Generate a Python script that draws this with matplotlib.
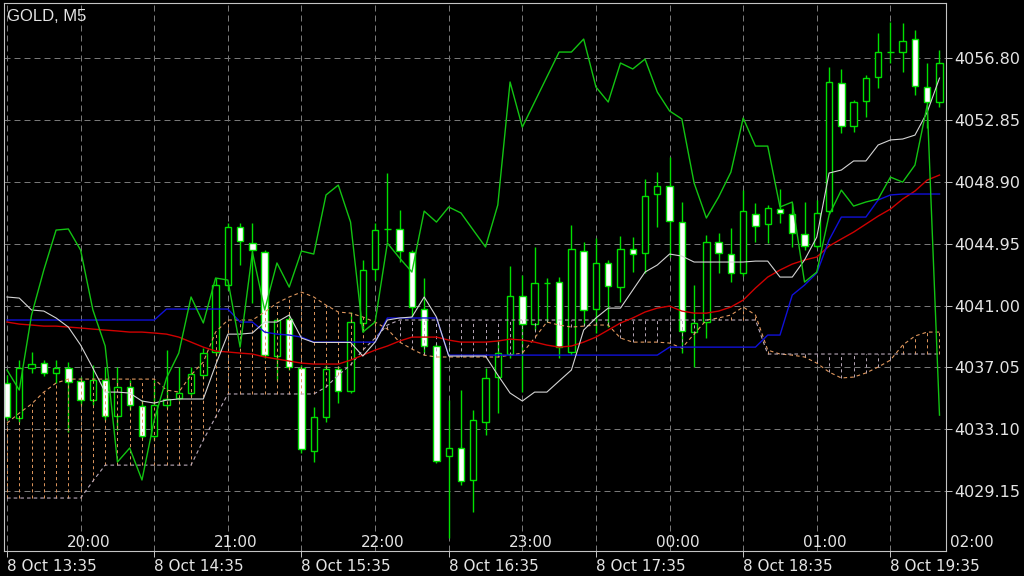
import numpy as np
import matplotlib
matplotlib.use("Agg")
import matplotlib.pyplot as plt
from matplotlib.patches import Rectangle

plt.rcParams['lines.scale_dashes'] = False
plt.rcParams['font.family'] = ['DejaVu Sans']

# GOLD M5 candles
opens = [4036.06, 4033.82, 4037.01, 4037.33, 4036.70, 4037.01, 4036.19, 4034.97, 4036.25, 4033.95,
         4035.80, 4034.59, 4032.67, 4034.65, 4035.10, 4035.42, 4036.57, 4038.04, 4042.31, 4046.01,
         4044.99, 4044.42, 4037.78, 4040.14, 4037.01, 4031.72, 4033.89, 4036.95, 4035.55, 4039.89,
         4043.33, 4045.89, 4045.89, 4044.42, 4040.78, 4038.42, 4031.40, 4031.91, 4029.87, 4033.57,
         4036.44, 4037.91, 4041.61, 4039.82, 4042.44, 4042.50, 4038.04, 4044.48, 4040.78, 4043.72,
         4042.18, 4044.61, 4044.35, 4048.12, 4048.63, 4046.33, 4039.31, 4039.95, 4045.06, 4044.29,
         4043.08, 4046.84, 4046.20, 4047.16, 4046.84, 4045.57, 4044.80, 4047.03, 4055.20, 4052.46,
         4054.05, 4055.59, 4057.18, 4057.18, 4058.01, 4054.95, 4053.99]
highs = [4036.57, 4037.52, 4038.04, 4037.52, 4037.52, 4037.40, 4036.44, 4037.21, 4037.08, 4037.08,
         4036.25, 4034.97, 4036.25, 4038.16, 4037.08, 4037.08, 4038.29, 4042.76, 4046.27, 4046.27,
         4046.27, 4044.54, 4040.21, 4040.40, 4037.21, 4034.53, 4037.21, 4037.14, 4040.59, 4043.91,
         4046.27, 4049.46, 4047.10, 4044.54, 4042.76, 4038.55, 4034.97, 4035.61, 4034.33, 4037.01,
         4038.80, 4043.52, 4042.95, 4044.74, 4042.76, 4042.82, 4046.14, 4045.06, 4045.31, 4043.91,
         4045.44, 4045.37, 4049.08, 4049.52, 4050.48, 4047.61, 4042.31, 4045.50, 4045.63, 4045.95,
         4048.37, 4047.54, 4047.40, 4048.44, 4047.54, 4047.61, 4047.74, 4056.22, 4056.10, 4054.12,
         4055.71, 4058.39, 4059.10, 4059.03, 4058.59, 4056.48, 4057.31]
lows = [4033.70, 4033.57, 4036.70, 4036.50, 4036.06, 4032.93, 4034.65, 4034.65, 4033.70, 4033.06,
        4034.33, 4032.55, 4032.42, 4034.46, 4034.97, 4035.23, 4036.38, 4037.84, 4041.99, 4043.59,
        4041.16, 4037.65, 4036.25, 4036.89, 4031.59, 4031.02, 4033.57, 4034.78, 4035.42, 4039.31,
        4042.63, 4045.06, 4043.78, 4040.27, 4037.97, 4030.95, 4026.16, 4029.55, 4027.82, 4032.74,
        4034.14, 4037.65, 4035.48, 4039.44, 4039.95, 4037.65, 4037.84, 4039.76, 4039.25, 4039.63,
        4041.23, 4043.14, 4043.08, 4046.01, 4044.10, 4037.97, 4037.08, 4038.93, 4043.08, 4042.50,
        4042.89, 4045.06, 4044.99, 4046.27, 4044.74, 4044.54, 4044.67, 4046.84, 4052.01, 4052.08,
        4053.03, 4054.88, 4056.48, 4055.90, 4054.44, 4052.33, 4053.67]
closes = [4033.89, 4037.01, 4037.27, 4036.70, 4037.01, 4036.12, 4034.97, 4036.25, 4033.95, 4035.80,
          4034.65, 4032.67, 4034.65, 4035.04, 4035.42, 4036.63, 4037.97, 4042.31, 4046.01, 4045.12,
          4044.54, 4037.84, 4040.08, 4037.08, 4031.85, 4033.89, 4036.95, 4035.55, 4039.95, 4043.27,
          4045.82, 4045.89, 4044.48, 4040.91, 4038.42, 4031.08, 4031.91, 4029.80, 4033.70, 4036.38,
          4037.97, 4041.61, 4039.82, 4042.44, 4042.44, 4038.35, 4044.61, 4040.72, 4043.72, 4042.25,
          4044.61, 4044.29, 4047.99, 4048.63, 4046.40, 4039.38, 4039.89, 4045.06, 4044.35, 4043.08,
          4047.03, 4046.08, 4047.23, 4046.91, 4045.63, 4044.80, 4046.91, 4055.27, 4052.46, 4053.99,
          4055.52, 4057.18, 4057.18, 4057.88, 4055.01, 4053.99, 4056.48]

# indicator lines
tenkan = [4041.55, 4041.48, 4040.72, 4040.65, 4040.21, 4039.63, 4038.48, 4037.01, 4035.48, 4035.48,
          4035.42, 4034.91, 4034.78, 4034.97, 4035.04, 4035.04, 4035.04, 4037.21, 4039.18, 4039.18,
          4039.25, 4039.95, 4039.95, 4040.40, 4038.93, 4038.65, 4038.65, 4038.65, 4038.65, 4037.78,
          4038.67, 4040.08, 4040.21, 4040.27, 4041.55, 4040.27, 4037.78, 4037.78, 4037.78, 4037.78,
          4036.57, 4035.42, 4034.91, 4035.48, 4035.48, 4036.19, 4036.89, 4039.44, 4040.21, 4040.84,
          4040.84, 4041.99, 4043.14, 4043.59, 4044.29, 4044.16, 4043.78, 4043.78, 4043.78, 4043.78,
          4043.78, 4043.84, 4043.84, 4042.82, 4042.82, 4043.91, 4045.37, 4049.46, 4049.65, 4050.23,
          4050.23, 4051.25, 4051.57, 4051.63, 4051.88, 4053.35, 4055.52]
kijun = [4040.08, 4040.08, 4040.08, 4040.08, 4040.08, 4040.08, 4040.08, 4040.08, 4040.08, 4040.08,
         4040.08, 4040.08, 4040.08, 4040.78, 4040.78, 4040.78, 4040.78, 4040.78, 4040.78, 4039.95,
         4039.95, 4039.31, 4039.18, 4039.12, 4038.99, 4038.67, 4038.67, 4038.67, 4038.67, 4038.67,
         4038.67, 4040.21, 4040.21, 4040.21, 4040.21, 4040.21, 4037.84, 4037.84, 4037.84, 4037.84,
         4037.84, 4037.84, 4037.84, 4037.84, 4037.84, 4037.84, 4037.84, 4037.84, 4037.84, 4037.84,
         4037.84, 4037.84, 4037.84, 4037.84, 4038.35, 4038.35, 4038.35, 4038.35, 4038.35, 4038.35,
         4038.35, 4038.35, 4039.12, 4039.12, 4041.67, 4042.31, 4043.08, 4045.18, 4046.65, 4046.65,
         4046.65, 4047.74, 4048.06, 4048.12, 4048.12, 4048.12, 4048.12]
red_ma = [4039.95, 4039.82, 4039.76, 4039.69, 4039.69, 4039.63, 4039.57, 4039.50, 4039.44, 4039.38,
          4039.31, 4039.31, 4039.25, 4039.18, 4038.99, 4038.67, 4038.35, 4038.10, 4038.04, 4037.97,
          4037.91, 4037.72, 4037.59, 4037.46, 4037.33, 4037.27, 4037.27, 4037.27, 4037.52, 4037.84,
          4038.16, 4038.42, 4038.74, 4038.99, 4038.99, 4038.99, 4038.80, 4038.67, 4038.67, 4038.67,
          4038.74, 4038.86, 4038.80, 4038.67, 4038.48, 4038.35, 4038.42, 4038.67, 4038.99, 4039.44,
          4039.89, 4040.21, 4040.59, 4040.84, 4040.97, 4040.65, 4040.52, 4040.52, 4040.65, 4040.91,
          4041.35, 4042.12, 4042.82, 4043.27, 4043.65, 4043.91, 4044.10, 4044.80, 4045.25, 4045.69,
          4046.20, 4046.71, 4047.16, 4047.80, 4048.31, 4049.01, 4049.33]
chikou = [4036.89, 4035.61, 4040.40, 4043.27, 4045.82, 4045.89, 4044.54, 4040.72, 4038.42, 4031.02,
          4031.91, 4029.87, 4033.70, 4036.38, 4037.97, 4041.55, 4039.89, 4042.76, 4042.63, 4038.35,
          4044.42, 4040.72, 4043.72, 4042.18, 4044.48, 4044.29, 4048.06, 4048.69, 4046.33, 4039.31,
          4039.95, 4044.99, 4044.03, 4043.14, 4047.03, 4046.33, 4047.29, 4046.91, 4045.82, 4044.74,
          4047.42, 4055.27, 4052.39, 4053.99, 4055.59, 4057.18, 4057.18, 4058.01, 4054.95, 4053.99,
          4056.48, 4056.10, 4056.73, 4054.63, 4053.42, 4052.91, 4048.82, 4046.59, 4047.93, 4049.52,
          4052.97, 4051.18, 4051.18, 4047.29, 4047.61, 4042.50, 4043.14, 4046.78, 4048.37, 4047.35,
          4047.61, 4047.80, 4049.20, 4048.88, 4049.97, 4053.80, 4034.01]
span_a = [4033.50, 4034.14, 4034.72, 4035.48, 4036.06, 4036.31, 4036.31, 4036.31, 4036.31, 4036.31,
          4036.31, 4036.31, 4036.31, 4035.61, 4035.48, 4036.57, 4037.40, 4039.31, 4040.08, 4040.08,
          4040.08, 4040.59, 4041.16, 4041.55, 4041.86, 4041.55, 4041.03, 4040.59, 4040.52, 4040.27,
          4039.95, 4039.50, 4038.67, 4038.23, 4037.84, 4037.72, 4037.72, 4037.72, 4037.72, 4037.72,
          4037.72, 4037.84, 4037.97, 4038.93, 4039.95, 4039.76, 4039.63, 4039.69, 4039.76, 4039.76,
          4038.93, 4038.67, 4038.67, 4038.67, 4038.61, 4038.29, 4039.18, 4040.08, 4040.21, 4040.40,
          4040.91, 4040.40, 4038.16, 4037.91, 4037.84, 4037.72, 4037.33, 4036.76, 4036.38, 4036.44,
          4036.70, 4037.08, 4037.52, 4038.48, 4039.06, 4039.31, 4039.31]
span_b = [4028.72, 4028.72, 4028.72, 4028.72, 4028.72, 4028.72, 4028.72, 4029.80, 4030.82, 4030.82,
          4030.82, 4030.82, 4030.82, 4030.82, 4030.82, 4030.82, 4032.42, 4033.89, 4035.36, 4035.36,
          4035.36, 4035.36, 4035.36, 4035.36, 4035.36, 4035.36, 4035.80, 4036.57, 4037.21, 4038.16,
          4038.93, 4039.76, 4040.08, 4040.08, 4040.08, 4040.08, 4040.08, 4040.08, 4040.08, 4040.08,
          4040.08, 4040.08, 4040.08, 4040.08, 4040.08, 4040.08, 4040.08, 4040.08, 4040.08, 4040.08,
          4040.08, 4040.08, 4040.08, 4040.08, 4040.08, 4040.08, 4040.08, 4040.08, 4040.08, 4040.08,
          4040.08, 4040.08, 4037.91, 4037.91, 4037.91, 4037.91, 4037.91, 4037.91, 4037.91, 4037.91,
          4037.91, 4037.91, 4037.91, 4037.91, 4037.91, 4037.91, 4037.91]

price_ticks = [4029.15, 4033.10, 4037.05, 4041.00, 4044.95, 4048.90, 4052.85, 4056.80]
date_labels = ['8 Oct 13:35', '8 Oct 14:35', '8 Oct 15:35', '8 Oct 16:35',
               '8 Oct 17:35', '8 Oct 18:35', '8 Oct 19:35']
hour_labels = ['20:00', '21:00', '22:00', '23:00', '00:00', '01:00', '02:00']

bars = np.arange(len(closes))
o = np.array(opens); h = np.array(highs); l = np.array(lows); c = np.array(closes)
a = np.array(span_a); b = np.array(span_b)

candle_green = '#00e000'
sandy = '#e0985e'
thistle = '#b9a9b9'
txt = '#e4e4e4'
frame = '#c4c4c4'

fig = plt.figure(figsize=(10.24, 5.76), dpi=100, facecolor='black')
ax = fig.add_axes([4/1024, 25/576, 942/1024, 548/576], facecolor='black')
ax.set_xlim(-0.245, 76.53)
ax.set_ylim(4025.34, 4060.31)

# grid
ax.set_yticks(price_ticks)
ax.set_yticklabels(['%.2f' % p for p in price_ticks])
ax.yaxis.tick_right()
ax.grid(True, axis='y', color='#7c7c7c', linestyle=(0, (4.3, 2.9)), linewidth=0.7, zorder=0)
for g in range(0, 77, 6):
    ax.axvline(g, color='#7c7c7c', linestyle=(0, (4.3, 2.9)), linewidth=0.7, zorder=0)

ax.set_xticks(np.arange(0, 73, 12))
ax.set_xticklabels(date_labels)
for lbl in ax.get_xticklabels():
    lbl.set_horizontalalignment('left')
ax.tick_params(axis='y', colors=frame, labelcolor=txt, labelsize=11.5, length=4, width=0.7, pad=2)
ax.tick_params(axis='x', colors=frame, labelcolor=txt, labelsize=11, length=4, width=0.7, pad=2)
for s in ax.spines.values():
    s.set_color(frame)
    s.set_linewidth(0.8)

# candles: white = bearish, hollow = bullish
bear = c < o
ax.vlines(bars, l, h, color=candle_green, lw=1, zorder=2)
for i in bars:
    face = 'white' if bear[i] else 'black'
    ax.add_patch(Rectangle((i - 0.26, min(o[i], c[i])), 0.52, abs(c[i] - o[i]),
                           facecolor=face, edgecolor=candle_green, lw=1, zorder=2.1))

# ichimoku cloud
up = a >= b
ax.vlines(bars[up], b[up], a[up], colors=sandy, linestyles=(0, (2.2, 2.2)), lw=0.7, zorder=3)
ax.vlines(bars[~up], a[~up], b[~up], colors=thistle, linestyles=(0, (2.2, 2.2)), lw=0.7, zorder=3)
ax.plot(bars, a, color=sandy, ls=(0, (2.6, 2.2)), lw=0.8, zorder=3)
ax.plot(bars, b, color=thistle, ls=(0, (2.6, 2.2)), lw=0.8, zorder=3)

ax.plot(bars, red_ma, color='#d00000', lw=1, zorder=4)
ax.plot(bars, kijun, color='#1010d8', lw=1, zorder=4)
ax.plot(bars, tenkan, color='#d4d4d4', lw=0.8, zorder=4)
ax.plot(bars, chikou, color='#12c412', lw=1, zorder=4)

# hour labels inside the bottom of the plot
for k, lab in enumerate(hour_labels):
    ax.text(6 + 12 * k + 0.65, 0.016, lab, transform=ax.get_xaxis_transform(),
            ha='center', va='center', color=txt, fontsize=11, clip_on=False)

ax.text(0.0032, 0.9745, 'GOLD, M5', transform=ax.transAxes, color=txt, fontsize=12,
        family=['Liberation Sans', 'DejaVu Sans'], ha='left', va='center')

fig.savefig('out.png', dpi=100, facecolor='black')
